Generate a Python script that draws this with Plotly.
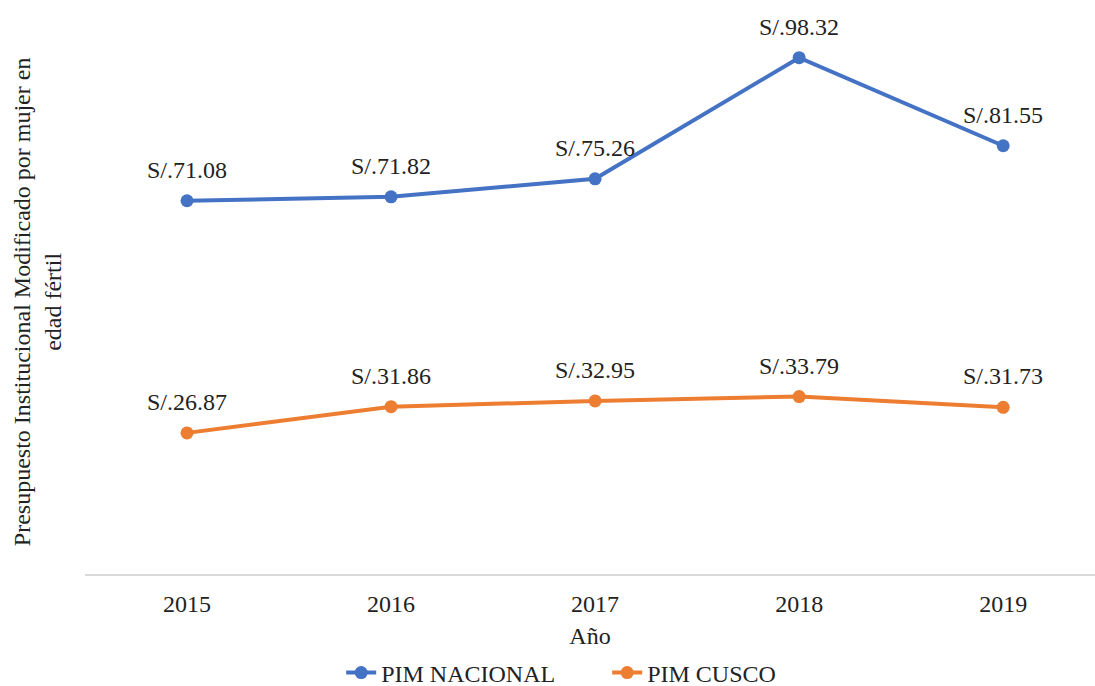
import plotly.graph_objects as go

years = [2015, 2016, 2017, 2018, 2019]
pim_nacional = [71.08, 71.82, 75.26, 98.32, 81.55]
pim_cusco = [26.87, 31.86, 32.95, 33.79, 31.73]

FONT = "Liberation Serif"
BLUE = "#4472C4"
ORANGE = "#ED7D31"
TXT = "#222222"
FS = 24

fig = go.Figure()
for name, vals, col in [("PIM NACIONAL", pim_nacional, BLUE), ("PIM CUSCO", pim_cusco, ORANGE)]:
    fig.add_trace(go.Scatter(
        x=years, y=vals, name=name, mode="lines+markers",
        line=dict(color=col, width=4),
        marker=dict(color=col, size=13),
    ))
    for x, v in zip(years, vals):
        fig.add_annotation(x=x, y=v, text=f"S/.{v:.2f}", showarrow=False,
                           yshift=31, font=dict(family=FONT, size=FS, color=TXT))

fig.add_annotation(xref="paper", yref="paper", x=0, y=0.482, xshift=-48,
                   text="Presupuesto Institucional Modificado por mujer en<br>edad fértil",
                   textangle=-90, showarrow=False, xanchor="center", yanchor="middle",
                   font=dict(family=FONT, size=FS, color=TXT))

fig.update_layout(
    width=1095, height=686,
    margin=dict(l=85, r=0, t=10, b=112, autoexpand=False),
    paper_bgcolor="white", plot_bgcolor="white",
    font=dict(family=FONT, size=FS, color=TXT),
    showlegend=True,
    legend=dict(orientation="h", x=0.517, xanchor="center", y=-0.1755, yanchor="middle",
                entrywidth=221, entrywidthmode="pixels",
                font=dict(family=FONT, size=FS, color=TXT)),
    xaxis=dict(range=[2014.5, 2019.45], tickmode="array", tickvals=years,
               ticktext=[str(y) for y in years], showgrid=False, zeroline=False,
               showline=True, linecolor="#d9d9d9", linewidth=2, ticks="",
               ticklabelstandoff=7,
               tickfont=dict(family=FONT, size=FS, color=TXT),
               title=dict(text="Año", font=dict(family=FONT, size=FS, color=TXT), standoff=11)),
    yaxis=dict(range=[0, 107.4], showgrid=False, zeroline=False, showticklabels=False,
               showline=False, ticks=""),
)

fig.write_html("out.html")
